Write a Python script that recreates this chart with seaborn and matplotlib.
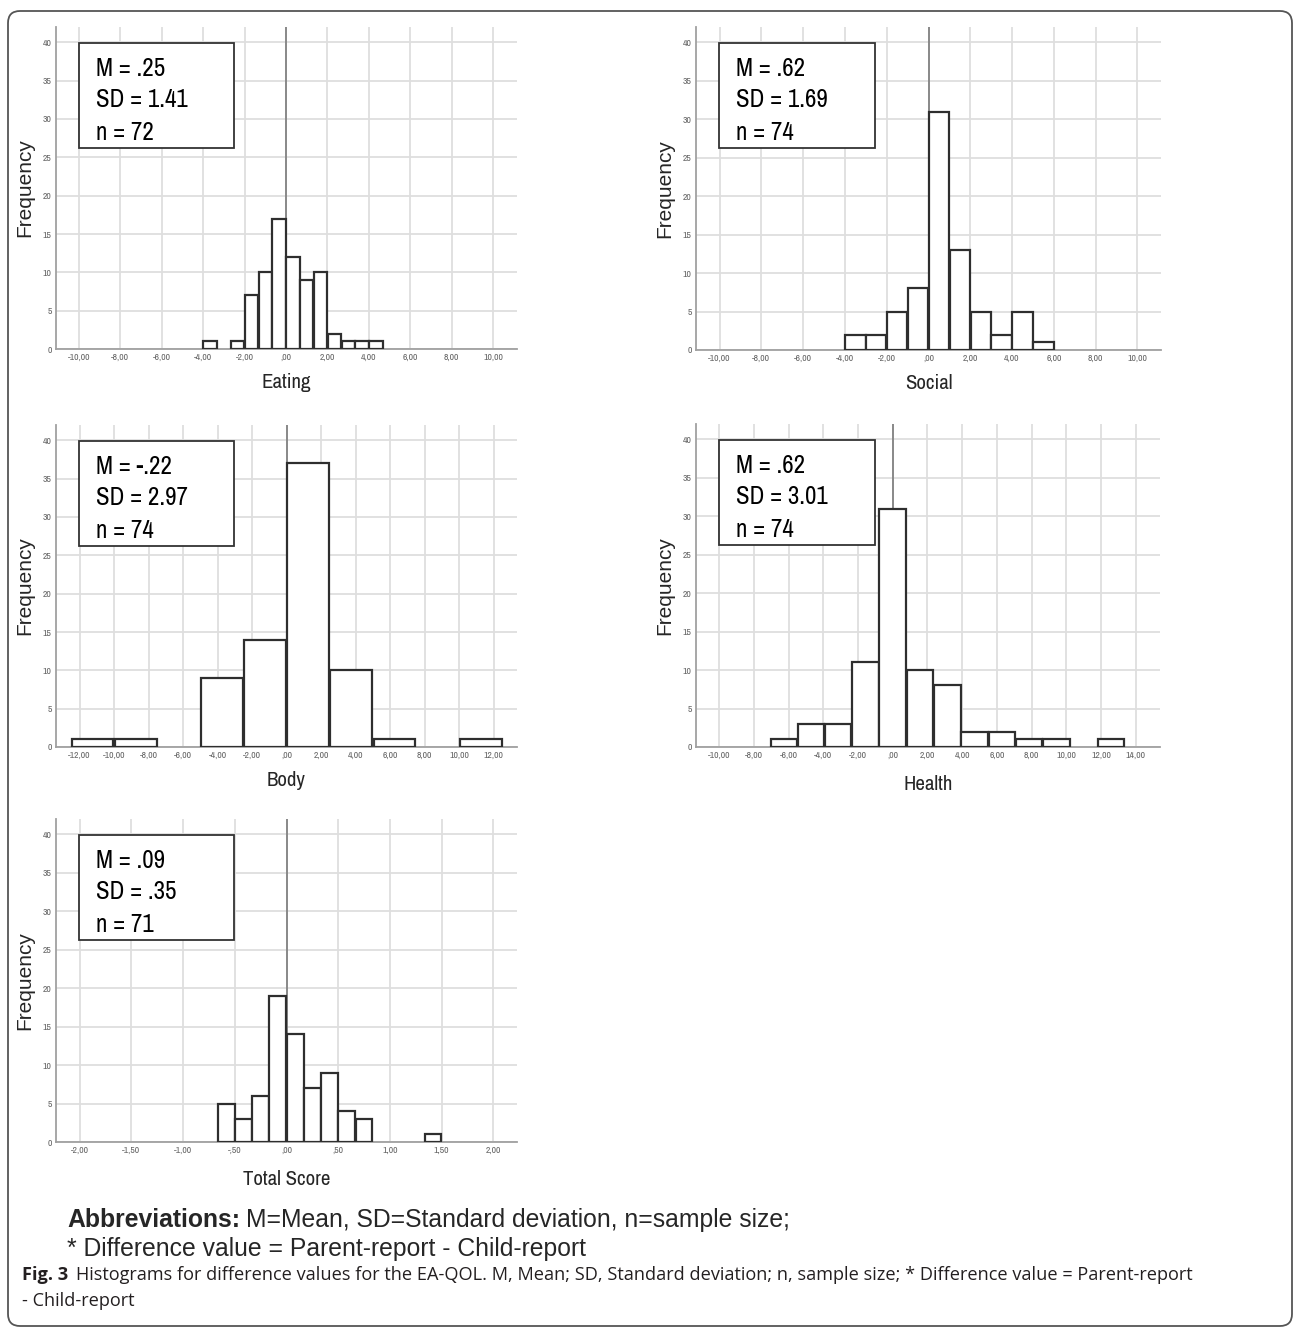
import numpy as np
import pandas as pd
import matplotlib
matplotlib.use("Agg")
import matplotlib.pyplot as plt
import matplotlib.patches as mpatches
import matplotlib.transforms as mtransforms
from matplotlib import font_manager as fm
import seaborn as sns

# =====================================
# DATA
# =====================================

eating_edges = [-4.00, -3.33, -2.67, -2.00, -1.33, -0.67, 0.00, 0.67, 1.33, 2.00, 2.67, 3.33, 4.00, 4.67]
eating_counts = [1, 0, 1, 7, 10, 17, 12, 9, 10, 2, 1, 1, 1]

social_edges = [-4, -3, -2, -1, 0, 1, 2, 3, 4, 5, 6]
social_counts = [2, 2, 5, 8, 31, 13, 5, 2, 5, 1]

body_edges = [-12.5, -10.0, -7.5, -5.0, -2.5, 0.0, 2.5, 5.0, 7.5, 10.0, 12.5]
body_counts = [1, 1, 0, 9, 14, 37, 10, 1, 0, 1]

health_edges = [-7.07, -5.50, -3.93, -2.36, -0.79, 0.79, 2.36, 3.93, 5.50, 7.07, 8.64, 10.21, 11.78, 13.35]
health_counts = [1, 3, 3, 11, 31, 10, 8, 2, 2, 1, 1, 0, 1]

total_edges = [-0.667, -0.500, -0.333, -0.167, 0.000, 0.167, 0.333, 0.500, 0.667, 0.833, 1.000, 1.167, 1.333, 1.500]
total_counts = [5, 3, 6, 19, 14, 7, 9, 4, 3, 0, 0, 0, 1]

panel_names = ["Eating", "Social", "Body", "Health", "Total Score"]
panel_means = [".25", ".62", "-.22", ".62", ".09"]
panel_sds = ["1.41", "1.69", "2.97", "3.01", ".35"]
panel_ns = ["72", "74", "74", "74", "71"]

eating_xticks = [-10, -8, -6, -4, -2, 0, 2, 4, 6, 8, 10]
social_xticks = [-10, -8, -6, -4, -2, 0, 2, 4, 6, 8, 10]
body_xticks = [-12, -10, -8, -6, -4, -2, 0, 2, 4, 6, 8, 10, 12]
health_xticks = [-10, -8, -6, -4, -2, 0, 2, 4, 6, 8, 10, 12, 14]
total_xticks = [-2.0, -1.5, -1.0, -0.5, 0.0, 0.5, 1.0, 1.5, 2.0]
y_ticks = [0, 5, 10, 15, 20, 25, 30, 35, 40]

# =====================================
# CONFIG
# =====================================

W, H = 1295, 1328
DPI = 100

sns.set_theme(style="whitegrid", rc={
    "grid.color": "#dedede",
    "grid.linewidth": 1.3,
    "axes.edgecolor": "#a0a0a0",
    "axes.linewidth": 1.3,
})
plt.rcParams["font.family"] = ["Liberation Sans", "DejaVu Sans"]

# SPSS export is squeezed horizontally -> use a narrow sans if one is around
installed = {f.name for f in fm.fontManager.ttflist}
narrow_pref = ["Liberation Sans Narrow", "Arial Narrow", "Archivo Narrow",
               "PT Sans Narrow", "Roboto Condensed"]
NARROW = next((f for f in narrow_pref if f in installed), None)
if NARROW is None:
    NARROW = "Liberation Sans"
    SHRINK = 0.84
else:
    SHRINK = 1.0
CAPTION = "Open Sans" if "Open Sans" in installed else "Noto Sans"

panels = [
    # edges, counts, xticks, xlim, rect (px: left, top, right, bottom), xlabel pad
    (eating_edges, eating_counts, eating_xticks, (-11.1, 11.15), (56, 27, 517, 349), 8),
    (social_edges, social_counts, social_xticks, (-11.13, 11.13), (696, 27, 1161, 350), 8),
    (body_edges, body_counts, body_xticks, (-13.37, 13.35), (56, 425, 517, 747), 8),
    (health_edges, health_counts, health_xticks, (-11.34, 15.4), (696, 424, 1160, 747), 11),
    (total_edges, total_counts, total_xticks, (-2.23, 2.23), (56, 819, 517, 1142), 11),
]


def spss_label(v):
    s = f"{abs(v):.2f}".replace(".", ",")
    if s.startswith("0"):
        s = s[1:]
    return ("-" if v < 0 else "") + s


fig = plt.figure(figsize=(W / DPI, H / DPI), dpi=DPI)

for i, (edges, counts, xticks, xlim, rect, xpad) in enumerate(panels):
    l, t, r, b = rect
    ax = fig.add_axes([l / W, 1 - b / H, (r - l) / W, (b - t) / H])

    e = np.array(edges, dtype=float)
    df = pd.DataFrame({
        "value": (e[:-1] + e[1:]) / 2,
        "count": counts,
    })

    sns.histplot(
        data=df,
        x="value",
        weights="count",
        bins=list(edges),
        ax=ax,
        color="white",
        edgecolor="#2e2e2e",
        linewidth=1.6,
        alpha=1,
        shrink=0.97,
        zorder=3,
    )
    for p in ax.patches:
        if p.get_height() == 0:
            p.set_visible(False)

    ax.axvline(0, color="#7a7a7a", lw=1.2, zorder=2)

    ax.set_xlim(*xlim)
    ax.set_ylim(0, 42)
    ax.set_xticks(xticks)
    ax.set_xticklabels([spss_label(v) for v in xticks], family=NARROW)
    ax.set_yticks(y_ticks)
    ax.set_yticklabels([str(v) for v in y_ticks], family=NARROW)
    ax.tick_params(axis="both", length=0, labelsize=7 * SHRINK, labelcolor="#666666", pad=3)

    for side in ["top", "right"]:
        ax.spines[side].set_visible(False)

    ax.set_xlabel(panel_names[i], fontsize=15 * SHRINK, labelpad=xpad, family=NARROW)
    ax.set_ylabel("Frequency", fontsize=15, labelpad=6)

    # stats box
    ax.add_patch(mpatches.Rectangle(
        (0.05, 0.625), 0.336, 0.325,
        transform=ax.transAxes,
        facecolor="white",
        edgecolor="#333333",
        lw=1.3,
        zorder=5,
    ))
    lines = [f"M = {panel_means[i]}", f"SD = {panel_sds[i]}", f"n = {panel_ns[i]}"]
    for txt, yy in zip(lines, [0.872, 0.774, 0.672]):
        ax.text(0.087, yy, txt, transform=ax.transAxes, fontsize=18 * SHRINK, family=NARROW,
                va="center", ha="left", color="black", zorder=6)

# =====================================
# FOOTNOTES + CAPTION
# =====================================

renderer = fig.canvas.get_renderer()

t1 = fig.text(67 / W, 1 - 1220 / H, "Abbreviations:", fontsize=17.8,
              fontweight="bold", va="center", ha="left")
bb = t1.get_window_extent(renderer)
fig.text((bb.x1 + 6) / W, 1 - 1220 / H, "M=Mean, SD=Standard deviation, n=sample size;",
         fontsize=17.8, va="center", ha="left")
fig.text(67 / W, 1 - 1249 / H, "* Difference value = Parent-report - Child-report",
         fontsize=17.8, va="center", ha="left")

cap_family = [CAPTION, "DejaVu Sans"]
t2 = fig.text(22 / W, 1 - 1275 / H, "Fig. 3", fontsize=13.1, fontweight="bold",
              va="center", ha="left", family=cap_family, color="#231f20")
bb = t2.get_window_extent(renderer)
fig.text((bb.x1 + 8) / W, 1 - 1275 / H,
         "Histograms for difference values for the EA-QOL. M, Mean; SD, Standard deviation; "
         "n, sample size; * Difference value = Parent-report",
         fontsize=13.1, va="center", ha="left", family=cap_family, color="#231f20")
fig.text(22 / W, 1 - 1301 / H, "- Child-report", fontsize=13.1, va="center", ha="left",
         family=cap_family, color="#231f20")

# outer rounded frame
frame = mpatches.FancyBboxPatch(
    (8, 2), 1284, 1315,
    boxstyle="round,pad=0,rounding_size=12",
    transform=mtransforms.IdentityTransform(),
    facecolor="none",
    edgecolor="#555555",
    lw=1.3,
)
fig.add_artist(frame)

fig.savefig("out.png", dpi=DPI)
plt.close(fig)
